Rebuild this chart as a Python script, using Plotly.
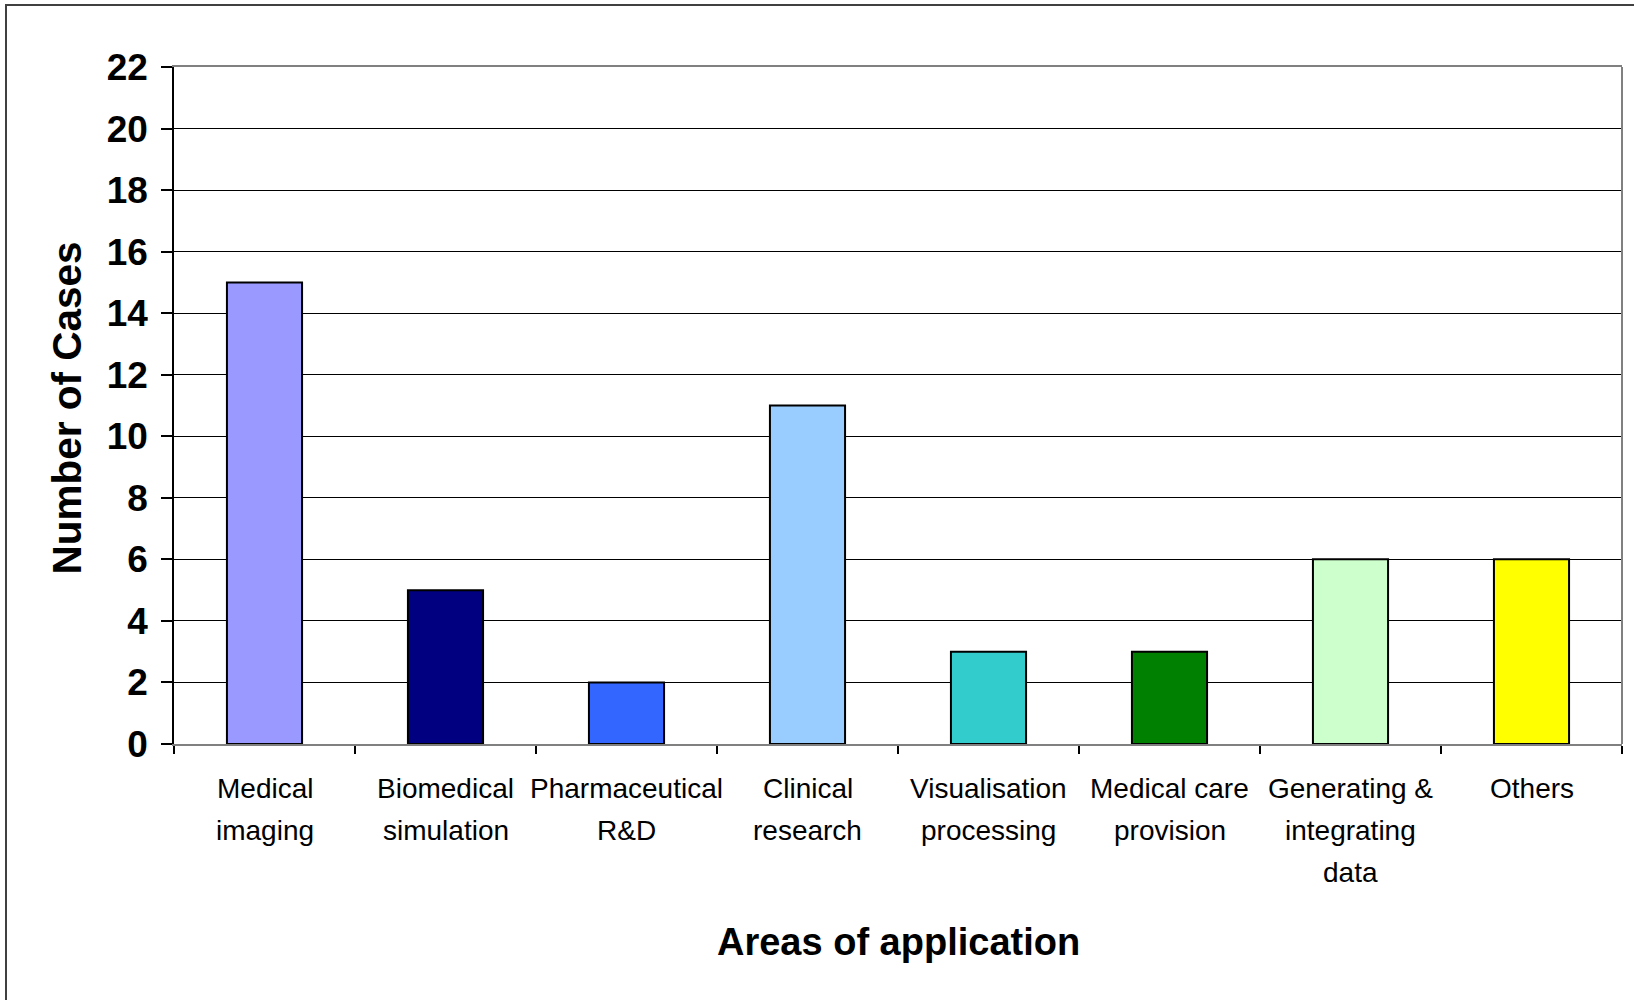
import plotly.graph_objects as go

categories = [
    "Medical<br>imaging",
    "Biomedical<br>simulation",
    "Pharmaceutical<br>R&D",
    "Clinical<br>research",
    "Visualisation<br>processing",
    "Medical care<br>provision",
    "Generating &<br>integrating<br>data",
    "Others",
]
cases = [15, 5, 2, 11, 3, 3, 6, 6]
bar_colors = ["#9999FF", "#000080", "#3366FF", "#99CCFF",
              "#33CCCC", "#008000", "#CCFFCC", "#FFFF00"]
y_ticks = list(range(0, 23, 2))
x_title = "Areas of application"
y_title = "Number of Cases"

W, H = 1634, 1000
ML, MR, MT, MB = 174, 12, 67, 256
PW, PH = W - ML - MR, H - MT - MB

FONT = "Liberation Sans, Arial, sans-serif"

fig = go.Figure(
    go.Bar(
        x=categories,
        y=cases,
        marker=dict(color=bar_colors, line=dict(color="#000000", width=2)),
        hoverinfo="y",
    )
)

fig.update_layout(
    width=W,
    height=H,
    margin=dict(l=ML, r=MR, t=MT, b=MB, autoexpand=False),
    paper_bgcolor="white",
    plot_bgcolor="white",
    bargap=0.585,
    showlegend=False,
    font=dict(family=FONT, color="#000000"),
)

fig.update_xaxes(
    type="category",
    tickson="boundaries",
    ticks="outside",
    ticklen=8,
    tickwidth=1.5,
    tickcolor="#000000",
    showticklabels=False,
    showline=True,
    linecolor="#808080",
    linewidth=2,
    mirror=True,
    showgrid=False,
    automargin=False,
)

fig.update_yaxes(
    range=[0, 22],
    tickvals=y_ticks,
    ticktext=[f"<b>{v}</b>" for v in y_ticks],
    ticks="outside",
    ticklen=11,
    tickwidth=1.5,
    tickcolor="#000000",
    showline=True,
    linecolor="#000000",
    linewidth=1.5,
    showgrid=True,
    gridcolor="#000000",
    gridwidth=1,
    zeroline=False,
    tickfont=dict(size=37, family=FONT, color="#000000"),
    ticklabelstandoff=6,
    automargin=False,
)

# category labels (one text per line, Excel-like line spacing)
LINE0, LINE_STEP = 44, 42
for cat in categories:
    for i, line in enumerate(cat.split("<br>")):
        fig.add_annotation(
            x=cat, xref="x", y=0, yref="paper",
            text=line, showarrow=False,
            xanchor="center", yanchor="middle",
            yshift=-(LINE0 + i * LINE_STEP),
            font=dict(size=28, family=FONT, color="#000000"),
        )

# axis titles
fig.add_annotation(
    x=0.5, xref="paper", y=0, yref="paper", text=f"<b>{x_title}</b>",
    showarrow=False, xanchor="center", yanchor="middle", yshift=-198,
    font=dict(size=38, family=FONT, color="#000000"),
)
fig.add_annotation(
    x=0, xref="paper", y=0.5, yref="paper", text=f"<b>{y_title}</b>",
    showarrow=False, xanchor="center", yanchor="middle", textangle=-90,
    xshift=-108, yshift=-3,
    font=dict(size=40.5, family=FONT, color="#000000"),
)

# right border of plot area (grey)
fig.add_shape(type="line", xref="paper", yref="paper", x0=1, x1=1, y0=0, y1=1,
              line=dict(color="#808080", width=2))
# outer chart frame
fig.add_shape(type="rect", xref="paper", yref="paper",
              x0=-(ML - 6) / PW, x1=1 + (MR + 20) / PW,
              y0=-(MB + 20) / PH, y1=1 + (MT - 5) / PH,
              line=dict(color="#404040", width=2), layer="below")

fig.write_html("out.html", config={"displayModeBar": False},
               post_script="document.body.style.margin='0';document.body.style.overflow='hidden';")
